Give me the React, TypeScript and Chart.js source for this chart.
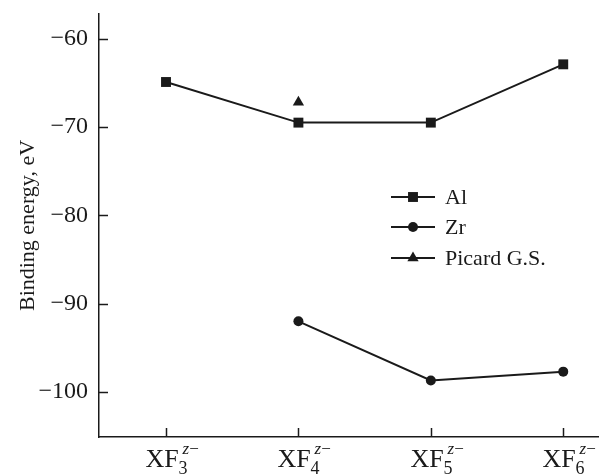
import React, { useEffect, useRef } from "react";
import { Chart, registerables } from "chart.js";
Chart.register(...registerables);

// subscripts n of the XF_n^{z-} category labels
const categories = ["3", "4", "5", "6"];
const alValues: (number | null)[] = [-64.9, -69.5, -69.5, -62.9];
const zrValues: (number | null)[] = [null, -92.0, -98.7, -97.7];
const picardValues: (number | null)[] = [null, -67.2, null, null];
const seriesNames = ["Al", "Zr", "Picard G.S."];
const yTitle = "Binding energy, eV";

const SERIF = "'Liberation Serif', 'Times New Roman', serif";
const INK = "#1a1a1a";

const toPoints = (vals: (number | null)[]) =>
  vals
    .map((v, i) => (v === null ? null : { x: i, y: v }))
    .filter((p) => p !== null) as { x: number; y: number }[];

const markerStyles = [
  { pointStyle: "rect", radius: 7 },
  { pointStyle: "circle", radius: 5 },
  { pointStyle: "triangle", radius: 6.5 },
];

const zeroPad = (s: any) => {
  s.paddingLeft = 0;
  s.paddingRight = 0;
  s.paddingTop = 0;
  s.paddingBottom = 0;
};

const decorPlugin = {
  id: "decor",
  afterDraw(chart: any) {
    const ctx = chart.ctx as CanvasRenderingContext2D;
    const xs = chart.scales.x;
    const ys = chart.scales.y;
    const area = chart.chartArea;
    ctx.save();
    ctx.strokeStyle = INK;
    ctx.lineWidth = 1.5;
    // inward ticks on y axis
    ys.ticks.forEach((t: any) => {
      const py = Math.round(ys.getPixelForValue(t.value)) + 0.5;
      ctx.beginPath();
      ctx.moveTo(area.left, py);
      ctx.lineTo(area.left + 9, py);
      ctx.stroke();
    });
    // inward ticks and labels on x axis
    categories.forEach((sub, i) => {
      const px = Math.round(xs.getPixelForValue(i)) + 0.5;
      ctx.beginPath();
      ctx.moveTo(px, area.bottom);
      ctx.lineTo(px, area.bottom - 9);
      ctx.stroke();

      ctx.fillStyle = INK;
      ctx.textBaseline = "alphabetic";
      ctx.textAlign = "left";
      ctx.font = `26px ${SERIF}`;
      const w1 = ctx.measureText("XF").width;
      ctx.font = `18px ${SERIF}`;
      const w2 = ctx.measureText(sub).width;
      const x0 = px - (w1 + w2) / 2;
      ctx.font = `26px ${SERIF}`;
      ctx.fillText("XF", x0, area.bottom + 30);
      ctx.font = `18px ${SERIF}`;
      ctx.fillText(sub, x0 + w1, area.bottom + 37);
      ctx.font = `italic 17px ${SERIF}`;
      ctx.fillText("z", x0 + w1 + 4, area.bottom + 17);
      const wz = ctx.measureText("z").width;
      ctx.font = `17px ${SERIF}`;
      ctx.fillText("\u2212", x0 + w1 + 4 + wz, area.bottom + 17);
    });
    // legend
    const legX0 = 391;
    const legX1 = 435;
    const rows = [197, 227, 258];
    seriesNames.forEach((name, k) => {
      const y = rows[k];
      ctx.strokeStyle = INK;
      ctx.lineWidth = 2;
      ctx.beginPath();
      ctx.moveTo(legX0, y);
      ctx.lineTo(legX1, y);
      ctx.stroke();
      ctx.fillStyle = INK;
      const ms = markerStyles[k];
      const mx = (legX0 + legX1) / 2;
      ctx.beginPath();
      if (ms.pointStyle === "rect") {
        const s = ms.radius * Math.SQRT1_2;
        ctx.rect(mx - s, y - s, 2 * s, 2 * s);
      } else if (ms.pointStyle === "circle") {
        ctx.arc(mx, y, ms.radius, 0, Math.PI * 2);
      } else {
        const r = ms.radius;
        ctx.moveTo(mx, y - r);
        ctx.lineTo(mx + r * Math.sin((2 * Math.PI) / 3), y - r * Math.cos((2 * Math.PI) / 3));
        ctx.lineTo(mx + r * Math.sin((4 * Math.PI) / 3), y - r * Math.cos((4 * Math.PI) / 3));
        ctx.closePath();
      }
      ctx.fill();
      ctx.font = `22px ${SERIF}`;
      ctx.textAlign = "left";
      ctx.textBaseline = "middle";
      ctx.fillText(name, 445, y + 1);
    });
    ctx.restore();
  },
};

export default function App() {
  const ref = useRef<HTMLCanvasElement | null>(null);
  useEffect(() => {
    if (!ref.current) return;
    const mk = (label: string, vals: (number | null)[], k: number, showLine: boolean) => ({
      label,
      data: toPoints(vals),
      showLine,
      borderColor: INK,
      backgroundColor: INK,
      borderWidth: 2,
      pointStyle: markerStyles[k].pointStyle,
      pointRadius: markerStyles[k].radius,
      pointBorderWidth: 0,
      pointBackgroundColor: INK,
      tension: 0,
    });
    const chart = new Chart(ref.current, {
      type: "scatter",
      data: {
        datasets: [
          mk(seriesNames[0], alValues, 0, true),
          mk(seriesNames[1], zrValues, 1, true),
          mk(seriesNames[2], picardValues, 2, false),
        ] as any,
      },
      options: {
        animation: false,
        responsive: false,
        layout: { autoPadding: false, padding: { top: 14, right: 0, left: 0, bottom: 0 } },
        plugins: { legend: { display: false }, tooltip: { enabled: false } },
        scales: {
          x: {
            type: "linear",
            min: -0.506,
            max: 3.27,
            grid: { display: false, drawTicks: false },
            border: { display: true, color: INK, width: 1.5 },
            ticks: { display: false },
            afterFit: (s: any) => {
              s.height = 39;
              zeroPad(s);
            },
          },
          y: {
            type: "linear",
            min: -105.1,
            max: -57.2,
            grid: { display: false, drawTicks: false },
            border: { display: true, color: INK, width: 1.5 },
            ticks: {
              stepSize: 10,
              includeBounds: false,
              padding: 11,
              color: INK,
              font: { family: SERIF, size: 24 },
              callback: (v: any) => (v < 0 ? "\u2212" + Math.abs(v) : String(v)),
            },
            title: {
              display: true,
              text: yTitle,
              color: INK,
              font: { family: SERIF, size: 22 },
              padding: { top: 15, bottom: 0 },
            },
            afterFit: (s: any) => {
              s.width = 99;
              zeroPad(s);
            },
          },
        },
      } as any,
      plugins: [decorPlugin],
    });
    return () => chart.destroy();
  }, []);
  return (
    <div style={{ position: "absolute", left: 0, top: 0, width: 599, height: 476, background: "#fff" }}>
      <canvas ref={ref} width={599} height={476} style={{ display: "block" }} />
    </div>
  );
}
